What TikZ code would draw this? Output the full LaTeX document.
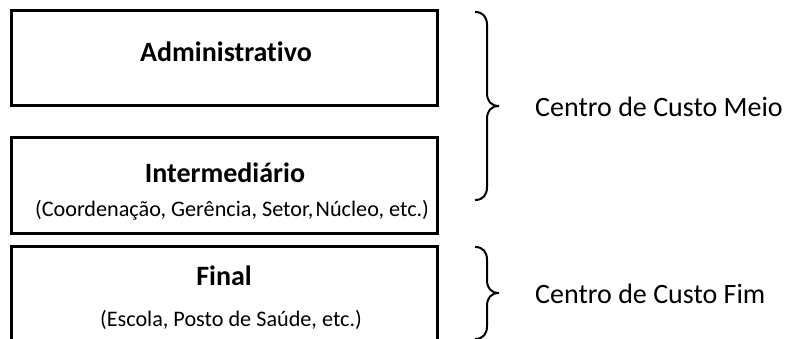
\documentclass[tikz,border=0pt]{standalone}
\usepackage{fontspec}
\setmainfont{Carlito}[Ligatures=NoCommon]
\usepackage{tikz}
\usetikzlibrary{positioning}
\tikzset{>=latex}

\begin{document}
\begin{tikzpicture}[
        x=1pt, y=1pt,
        level/.style={line width=3pt},
        title/.style={anchor=base, inner sep=0pt, font=\fontsize{28}{34}\selectfont\bfseries},
        detail/.style={anchor=base, inner sep=0pt, font=\fontsize{22.2}{26}\selectfont},
        centro/.style={anchor=base west, inner sep=0pt, font=\fontsize{28}{34}\selectfont},
        curly/.style={line width=2pt},
    ]
        \useasboundingbox (0,0) rectangle (790,-339);
        \clip (0,0) rectangle (790,-339);

        % administrativo
        \draw[level] (11,-11) rectangle (437,-106);
        \node[title] (admin) at (226,-62) {Administrativo};

        % intermediario
        \draw[level] (11,-138) rectangle (437,-234);
        \node[title] (inter) at (225,-183) {Intermediário};
        \node[detail] (interdet) at (232,-217) {(Coordenação, Gerência, Setor,\hspace{0.1em}Núcleo, etc.)};

        % final
        \draw[level] (11,-247) rectangle (437,-360);
        \node[title] (final) at (224,-285) {Final};
        \node[detail] (finaldet) at (231,-326) {(Escola, Posto de Saúde, etc.)};

        % chave meio
        \draw[curly] (475,-12) .. controls (483,-12) and (487,-17) .. (487,-25)
            -- (487,-93) .. controls (487,-101) and (491,-106) .. (499,-106)
            .. controls (491,-106) and (487,-111) .. (487,-119)
            -- (487,-187) .. controls (487,-195) and (483,-200) .. (475,-200);
        \node[centro] (meio) at (535,-117) {Centro de Custo Meio};

        % chave fim
        \draw[curly] (475,-247) .. controls (483,-247) and (487,-252) .. (487,-260)
            -- (487,-280) .. controls (487,-288) and (491,-293) .. (499,-293)
            .. controls (491,-293) and (487,-298) .. (487,-306)
            -- (487,-326) .. controls (487,-334) and (483,-339) .. (475,-339);
        \node[centro] (fim) at (535,-303) {Centro de Custo Fim};
    \end{tikzpicture}
\end{document}
